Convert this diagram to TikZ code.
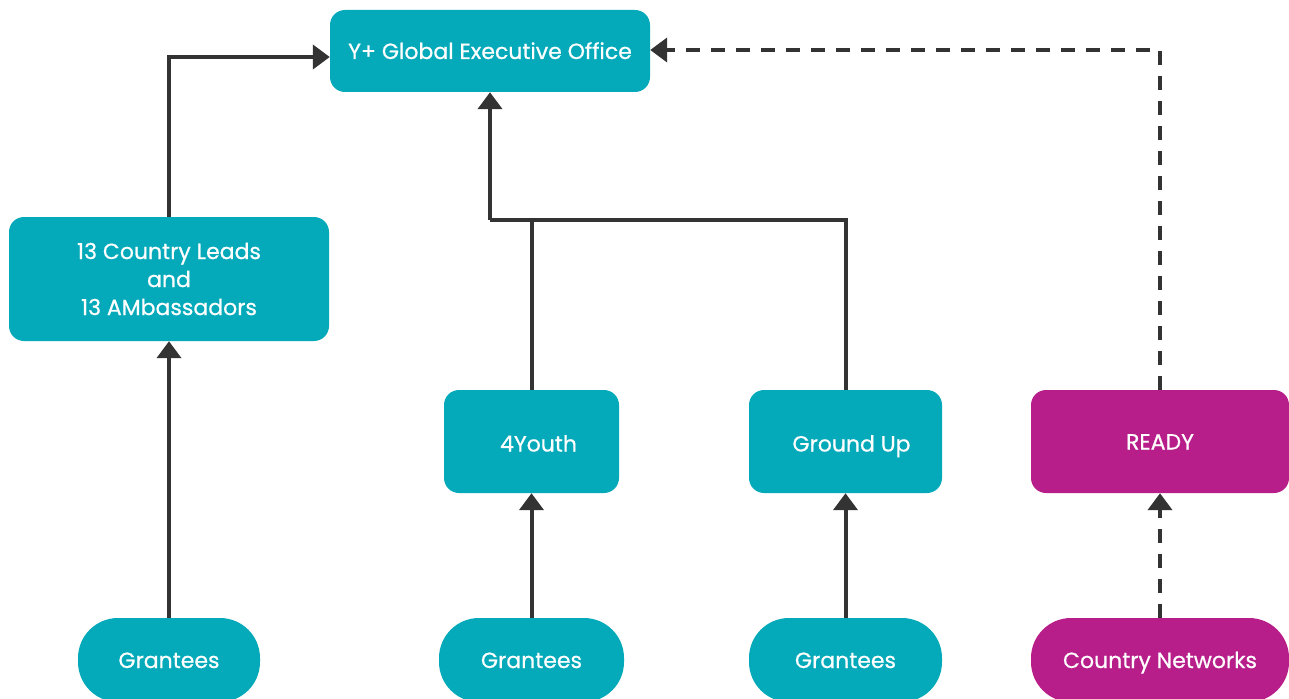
\documentclass[tikz,border=0pt]{standalone}
\usepackage{fontspec}
\setmainfont{Poppins}[FakeBold=0.6]
\usetikzlibrary{arrows.meta}
\definecolor{teal}{HTML}{04AABA}
\definecolor{mag}{HTML}{B81E8A}
\definecolor{ln}{HTML}{333333}
\begin{document}
\begin{tikzpicture}[x=1pt,y=-1pt,
  base/.style={fill=teal,rounded corners=15pt,text=white,font=\fontsize{22}{28}\selectfont,align=center,inner sep=0pt},
  box/.style={base,text height=16pt,text depth=0pt},
  lowbox/.style={base,text height=20pt,text depth=0pt},
  pill/.style={box,rounded corners=40pt},
  conn/.style={draw=ln,line width=4pt,-{Triangle[width=24pt,length=17pt]}},
  dconn/.style={conn,dash pattern=on 14pt off 11pt}]
\useasboundingbox (0,0) rectangle (1289,698);
\node[box,minimum width=320pt,minimum height=82pt] (top) at (490,51) {Y+ Global Executive Office};
\node[base,minimum width=320pt,minimum height=124pt] (lead) at (169,279) {13 Country Leads\\and\\13 AMbassadors};
\node[lowbox,minimum width=175pt,minimum height=103pt] (youth) at (531.5,441.5) {\hspace*{14pt}4Youth};
\node[lowbox,minimum width=193pt,minimum height=103pt] (ground) at (845.5,441.5) {\hspace*{12pt}Ground Up};
\node[box,fill=mag,minimum width=258pt,minimum height=103pt] (ready) at (1160,441.5) {READY};
\node[pill,minimum width=182pt,minimum height=84pt] (g1) at (169,660) {Grantees};
\node[pill,minimum width=185pt,minimum height=84pt] (g2) at (531.5,660) {Grantees};
\node[pill,minimum width=193pt,minimum height=84pt] (g3) at (845.5,660) {Grantees};
\node[pill,fill=mag,minimum width=258pt,minimum height=84pt] (cn) at (1160,660) {Country Networks};
\coordinate (j) at (490,220);
\draw[conn] (lead.north) |- (top.west |- 0,57);
\draw[conn] (g1.north) -- (lead.south);
\draw[draw=ln,line width=4pt] (youth.north) |- (j) -| (ground.north);
\draw[conn] (j) -- (top.south);
\draw[conn] (g2.north) -- (youth.south);
\draw[conn] (g3.north) -- (ground.south);
\draw[dconn] (ready.north) |- (top.east |- 0,50);
\draw[dconn] (cn.north) -- (ready.south);
\end{tikzpicture}
\end{document}
